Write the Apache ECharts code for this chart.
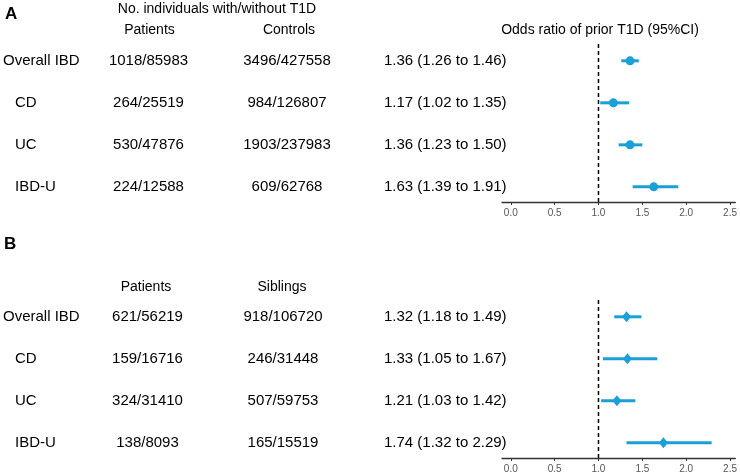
<!DOCTYPE html>
<html><head><meta charset="utf-8">
<script src="https://cdn.jsdelivr.net/npm/echarts@6/dist/echarts.min.js"></script>
<style>html,body{margin:0;padding:0;background:#fff}#c{width:740px;height:474px}</style>
</head><body><div id="c"></div>
<script>
const subgroups = ['Overall IBD', 'CD', 'UC', 'IBD-U'];
const patientsA = ['1018/85983', '264/25519', '530/47876', '224/12588'];
const controlsA = ['3496/427558', '984/126807', '1903/237983', '609/62768'];
const orA = [1.36, 1.17, 1.36, 1.63];
const lowA = [1.26, 1.02, 1.23, 1.39];
const highA = [1.46, 1.35, 1.50, 1.91];
const patientsB = ['621/56219', '159/16716', '324/31410', '138/8093'];
const siblingsB = ['918/106720', '246/31448', '507/59753', '165/15519'];
const orB = [1.32, 1.33, 1.21, 1.74];
const lowB = [1.18, 1.05, 1.03, 1.32];
const highB = [1.49, 1.67, 1.42, 2.29];
const xTicks = [0, 0.5, 1, 1.5, 2, 2.5];
const refValue = 1;

const FONT = '"Liberation Sans", Arial, sans-serif';
const BLUE = '#1a9fd6';
const YMIN = -0.4, YMAX = 3.36;

const chart = echarts.init(document.getElementById('c'), null, {renderer: 'canvas'});

function xAxisCfg(gi) {
  return {
    type: 'value', gridIndex: gi, min: -0.1, max: 2.56, position: 'bottom',
    splitLine: {show: false},
    axisLine: {show: true, onZero: false, lineStyle: {color: '#333', width: 1.3}},
    axisTick: {show: true, customValues: xTicks, length: 3, lineStyle: {color: '#333', width: 1}},
    axisLabel: {show: true, customValues: xTicks, margin: 6, color: '#555', fontSize: 10, fontFamily: FONT,
      formatter: v => Number(v).toFixed(1)}
  };
}
function yAxisCfg(gi) {
  return {type: 'value', gridIndex: gi, min: YMIN, max: YMAX, inverse: true, show: false};
}
function errSeries(idx, low, high) {
  return {
    type: 'custom', xAxisIndex: idx, yAxisIndex: idx,
    data: low.map((l, i) => [l, high[i], i]),
    encode: {x: [0, 1], y: 2},
    renderItem: (params, api) => {
      const a = api.coord([api.value(0), api.value(2)]);
      const b = api.coord([api.value(1), api.value(2)]);
      return {type: 'line', shape: {x1: a[0], y1: a[1], x2: b[0], y2: b[1]},
        style: {stroke: BLUE, lineWidth: 3}};
    },
    z: 3
  };
}
function ptSeries(idx, or, symbol, size) {
  return {
    type: 'scatter', xAxisIndex: idx, yAxisIndex: idx,
    data: or.map((v, i) => [v, i]),
    symbol: symbol, symbolSize: size,
    itemStyle: {color: BLUE, opacity: 1},
    z: 4
  };
}
function refSeries(idx) {
  return {
    type: 'line', xAxisIndex: idx, yAxisIndex: idx,
    data: [[refValue, YMIN], [refValue, YMAX]],
    symbol: 'none',
    lineStyle: {color: '#000', width: 1.5, type: [4, 3]},
    z: 2
  };
}

chart.setOption({
  animation: false,
  grid: [
    {left: 502, right: 2, top: 44, height: 158},
    {left: 502, right: 2, top: 300, height: 158}
  ],
  xAxis: [xAxisCfg(0), xAxisCfg(1)],
  yAxis: [yAxisCfg(0), yAxisCfg(1)],
  series: [
    refSeries(0), errSeries(0, lowA, highA), ptSeries(0, orA, 'circle', 9),
    refSeries(1), errSeries(1, lowB, highB), ptSeries(1, orB, 'diamond', [9, 11])
  ]
});

function txt(text, x, y, opts) {
  opts = opts || {};
  return {
    type: 'text', x: x, y: y, silent: true,
    style: {
      text: text,
      font: (opts.weight || 'normal') + ' ' + (opts.size || 15) + 'px ' + FONT,
      fill: opts.color || '#000',
      align: opts.align || 'left', textAlign: opts.align || 'left',
      verticalAlign: 'middle', textVerticalAlign: 'middle'
    }
  };
}
const fmt = (o, l, h) => o.toFixed(2) + ' (' + l.toFixed(2) + ' to ' + h.toFixed(2) + ')';

const g = [];
g.push(txt('A', 5, 14, {weight: 'bold', size: 17}));
g.push(txt('No. individuals with/without T1D', 217, 9, {size: 14, align: 'center'}));
g.push(txt('Patients', 149.5, 30, {size: 14, align: 'center'}));
g.push(txt('Controls', 289, 30, {size: 14, align: 'center'}));
g.push(txt('Odds ratio of prior T1D (95%CI)', 600, 30, {size: 14, align: 'center'}));
g.push(txt('B', 4, 244, {weight: 'bold', size: 17}));
g.push(txt('Patients', 146, 287, {size: 14, align: 'center'}));
g.push(txt('Siblings', 282, 287, {size: 14, align: 'center'}));

function rows(idx, pats, ctrls, or, low, high, pX, cX) {
  subgroups.forEach((s, i) => {
    const y = chart.convertToPixel({yAxisIndex: idx}, i);
    g.push(txt(s, i === 0 ? 3 : 15, y));
    g.push(txt(pats[i], pX, y, {align: 'center'}));
    g.push(txt(ctrls[i], cX, y, {align: 'center'}));
    g.push(txt(fmt(or[i], low[i], high[i]), 384, y));
  });
}
rows(0, patientsA, controlsA, orA, lowA, highA, 148.5, 287);
rows(1, patientsB, siblingsB, orB, lowB, highB, 147.5, 283);

chart.setOption({graphic: {elements: g}});
</script>
</body></html>
